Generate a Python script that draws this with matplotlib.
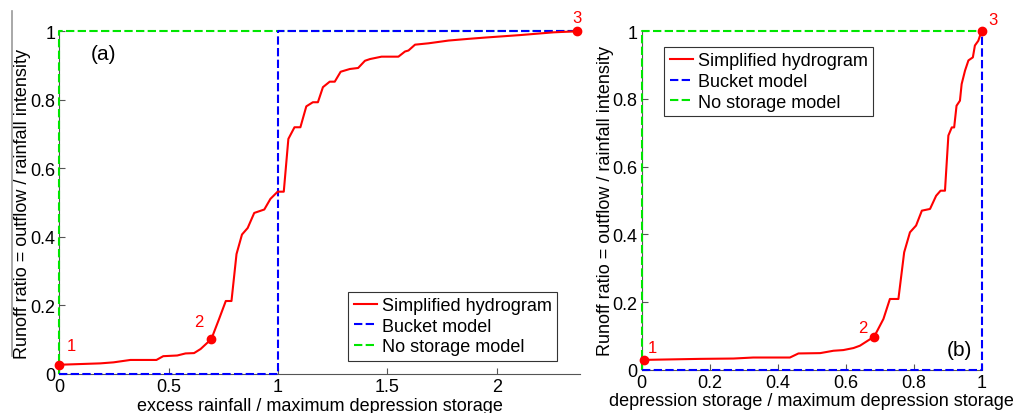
import matplotlib
matplotlib.use("Agg")
import matplotlib.pyplot as plt
from matplotlib.lines import Line2D

plt.rcParams['font.family'] = ['Liberation Sans', 'DejaVu Sans']

# Panel (a): excess rainfall / max depression storage
xa = [0.0, 0.187, 0.248, 0.325, 0.444, 0.475, 0.539, 0.577, 0.616, 0.646, 0.695,
      0.730, 0.761, 0.787, 0.810, 0.835, 0.861, 0.891, 0.937, 0.965, 0.998, 1.026,
      1.047, 1.075, 1.102, 1.129, 1.159, 1.182, 1.205, 1.236, 1.259, 1.286, 1.328,
      1.366, 1.397, 1.420, 1.473, 1.550, 1.580, 1.596, 1.626, 1.688, 1.779, 1.871,
      1.952, 2.107, 2.259, 2.366]
ya = [0.027, 0.031, 0.034, 0.041, 0.041, 0.052, 0.054, 0.060, 0.061, 0.073, 0.102,
      0.160, 0.213, 0.213, 0.350, 0.407, 0.426, 0.470, 0.480, 0.511, 0.532, 0.532,
      0.686, 0.720, 0.720, 0.781, 0.793, 0.793, 0.837, 0.853, 0.853, 0.882, 0.890,
      0.893, 0.914, 0.919, 0.926, 0.926, 0.941, 0.944, 0.961, 0.965, 0.973, 0.978,
      0.982, 0.989, 0.997, 1.0]
pts_a_x = [0.0, 0.695, 2.366]
pts_a_y = [0.027, 0.102, 1.0]
bucket_a_x = [0, 1, 1, 2.366]
bucket_a_y = [0, 0, 1, 1]
nostore_a_x = [0, 0, 2.366]
nostore_a_y = [0, 1, 1]

# Panel (b): depression storage / max depression storage
xb = [0.007, 0.172, 0.270, 0.328, 0.436, 0.461, 0.525, 0.564, 0.593, 0.623, 0.642,
      0.684, 0.711, 0.730, 0.755, 0.772, 0.789, 0.807, 0.824, 0.848, 0.866, 0.879,
      0.892, 0.902, 0.912, 0.919, 0.926, 0.936, 0.941, 0.951, 0.961, 0.974, 0.980,
      0.990, 0.995, 1.0]
yb = [0.029, 0.032, 0.033, 0.036, 0.036, 0.048, 0.049, 0.056, 0.058, 0.064, 0.071,
      0.098, 0.150, 0.209, 0.209, 0.347, 0.406, 0.426, 0.470, 0.475, 0.514, 0.529,
      0.529, 0.692, 0.716, 0.716, 0.780, 0.795, 0.844, 0.884, 0.914, 0.923, 0.958,
      0.972, 0.987, 1.0]
pts_b_x = [0.007, 0.684, 1.0]
pts_b_y = [0.029, 0.098, 1.0]
bucket_b_x = [0, 1, 1]
bucket_b_y = [0, 0, 1]
nostore_b_x = [0, 0, 1]
nostore_b_y = [0, 1, 1]

RED = '#ff0000'
BLUE = '#0000ff'
GREEN = '#00e600'
dash = (0, (4, 1.6))
fs = 13

fig = plt.figure(figsize=(10.13, 4.14), dpi=100)
W, H = 1013, 414

def make_axes(l, r, b, t):
    return fig.add_axes([l / W, 1 - b / H, (r - l) / W, (b - t) / H])

axa = make_axes(59.3, 580, 375, 32.3)
axb = make_axes(641.7, 981.7, 370.7, 32.3)

def style(ax):
    for s in ['top', 'right']:
        ax.spines[s].set_visible(False)
    for s in ['left', 'bottom']:
        ax.spines[s].set_color('#555555')
        ax.spines[s].set_linewidth(0.8)
    ax.tick_params(direction='in', length=4, width=0.8, color='#555555',
                   labelsize=fs, pad=3)
    ax.set_ylim(0, 1)
    ax.set_yticks([0, 0.2, 0.4, 0.6, 0.8, 1])
    ax.set_yticklabels(['0', '0.2', '0.4', '0.6', '0.8', '1'])
    ax.set_ylabel('Runoff ratio = outflow / rainfall intensity', fontsize=fs, labelpad=-1)

handles = [Line2D([], [], color=RED, lw=1.5),
           Line2D([], [], color=BLUE, lw=1.5, ls=dash),
           Line2D([], [], color=GREEN, lw=1.5, ls=dash)]
labels = ['Simplified hydrogram', 'Bucket model', 'No storage model']
leg_kw = dict(fontsize=fs, fancybox=False, framealpha=1, edgecolor='#333333',
              handlelength=1.3, handletextpad=0.25, borderpad=0.3, labelspacing=0.2,
              borderaxespad=0)

# Panel a
style(axa)
axa.set_xlim(0, 2.38)
axa.set_xticks([0, 0.5, 1, 1.5, 2])
axa.set_xticklabels(['0', '0.5', '1', '1.5', '2'])
axa.set_xlabel('excess rainfall / maximum depression storage', fontsize=fs, labelpad=1)
axa.plot(nostore_a_x, nostore_a_y, color=GREEN, ls=dash, lw=1.5, clip_on=False, zorder=3)
axa.plot(bucket_a_x, bucket_a_y, color=BLUE, ls=dash, lw=1.5, clip_on=False, zorder=4)
axa.plot(xa, ya, color=RED, lw=1.5, clip_on=False, zorder=5)
axa.plot(pts_a_x, pts_a_y, 'o', color=RED, ms=6, clip_on=False, zorder=6)
axa.text(0.057, 0.083, '1', color=RED, fontsize=12, ha='center', va='center')
axa.text(0.639, 0.153, '2', color=RED, fontsize=12, ha='center', va='center')
axa.text(2.366, 1.04, '3', color=RED, fontsize=12, ha='center', va='center', clip_on=False)
axa.text(0.202, 0.934, '(a)', fontsize=fs + 2, ha='center', va='center')
leg = axa.legend(handles, labels, loc='lower right', bbox_to_anchor=(0.956, 0.039), **leg_kw)
leg.get_frame().set_linewidth(0.8)

# Panel b
style(axb)
axb.set_xlim(0, 1)
axb.set_xticks([0, 0.2, 0.4, 0.6, 0.8, 1])
axb.set_xticklabels(['0', '0.2', '0.4', '0.6', '0.8', '1'])
axb.set_xlabel('depression storage / maximum depression storage', fontsize=fs, labelpad=1)
axb.plot(nostore_b_x, nostore_b_y, color=GREEN, ls=dash, lw=1.5, clip_on=False, zorder=3)
axb.plot(bucket_b_x, bucket_b_y, color=BLUE, ls=dash, lw=1.5, clip_on=False, zorder=4)
axb.plot(xb, yb, color=RED, lw=1.5, clip_on=False, zorder=5)
axb.plot(pts_b_x, pts_b_y, 'o', color=RED, ms=6, clip_on=False, zorder=6)
axb.text(0.032, 0.066, '1', color=RED, fontsize=12, ha='center', va='center')
axb.text(0.650, 0.125, '2', color=RED, fontsize=12, ha='center', va='center')
axb.text(1.034, 1.034, '3', color=RED, fontsize=12, ha='center', va='center', clip_on=False)
axb.text(0.934, 0.061, '(b)', fontsize=fs + 2, ha='center', va='center')
leg2 = axb.legend(handles, labels, loc='upper left', bbox_to_anchor=(0.066, 0.954), **leg_kw)
leg2.get_frame().set_linewidth(0.8)

# thin grey border line at the left edge of the image
fig.add_artist(Line2D([12 / W, 12 / W], [1 - 12 / H, 1 - 357 / H], color='#999999', lw=1.2,
                      transform=fig.transFigure))

fig.savefig('out.png', dpi=100)
